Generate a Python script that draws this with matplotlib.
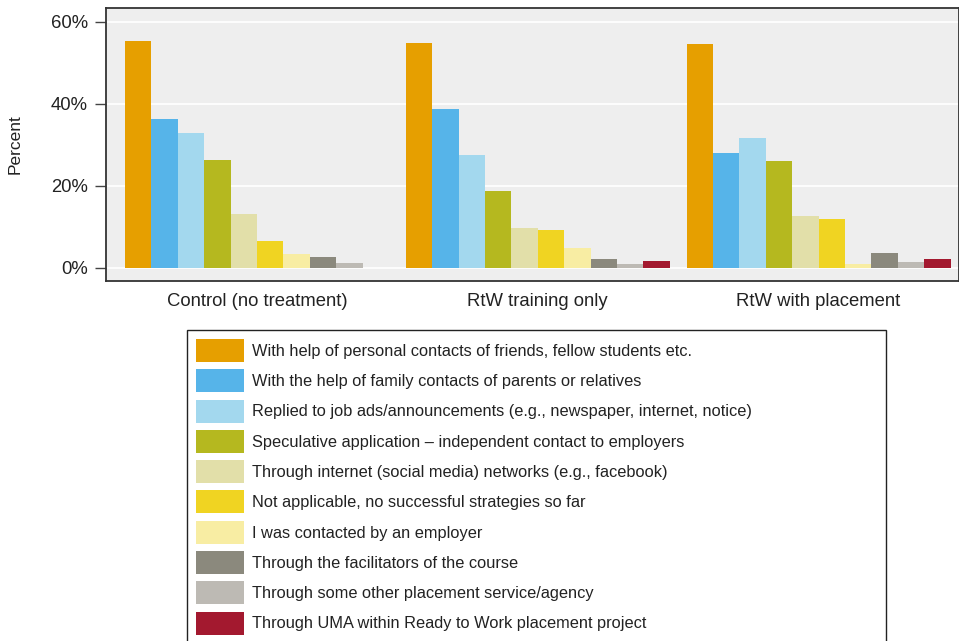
import numpy as np
import matplotlib
matplotlib.use('Agg')
import matplotlib.pyplot as plt
from matplotlib.patches import Patch
from matplotlib.ticker import FuncFormatter

plt.rcParams['font.family'] = ['Liberation Sans', 'DejaVu Sans']

groups = ['Control (no treatment)', 'RtW training only', 'RtW with placement']
strategies = [
    'With help of personal contacts of friends, fellow students etc.',
    'With the help of family contacts of parents or relatives',
    'Replied to job ads/announcements (e.g., newspaper, internet, notice)',
    'Speculative application \u2013 independent contact to employers',
    'Through internet (social media) networks (e.g., facebook)',
    'Not applicable, no successful strategies so far',
    'I was contacted by an employer',
    'Through the facilitators of the course',
    'Through some other placement service/agency',
    'Through UMA within Ready to Work placement project',
]
colors = ['#E69F00', '#56B4E9', '#A3D8EE', '#B5B81F', '#E2DFA9',
          '#F0D422', '#F8EDA3', '#8B897D', '#BDBAB4', '#A3192F']

# percent per group, one list per strategy
control = [55.3, 36.3, 32.9, 26.3, 13.2, 6.6, 3.3, 2.5, 1.2, 0.0]
training = [54.8, 38.7, 27.4, 18.8, 9.7, 9.1, 4.9, 2.1, 0.9, 1.6]
placement = [54.6, 27.9, 31.7, 25.9, 12.5, 11.8, 0.8, 3.5, 1.4, 2.2]
values = [control, training, placement]

########
fig = plt.figure(figsize=(9.59, 6.41), dpi=100)
ax = fig.add_axes([105.7/959, 1-281/641, (959-105.7)/959, 273/641])
ax.set_facecolor('#EEEEEE')

pitch = 10.64
for g, vals in enumerate(values):
    x = g*pitch + np.arange(len(vals)) + 0.5
    ax.bar(x, vals, width=1.0, color=colors, linewidth=0, zorder=3)

ax.set_xlim(-0.73, 2*pitch + 10 + 0.32)
ax.set_ylim(-3.24, 63.3)
ax.set_yticks([0, 20, 40, 60])
ax.yaxis.set_major_formatter(FuncFormatter(lambda v, p: '%d%%' % v))
ax.set_xticks([g*pitch + 5 for g in range(3)])
ax.set_xticklabels(groups)
ax.tick_params(axis='x', length=0, pad=9, labelsize=13.3, colors='#222222')
ax.tick_params(axis='y', length=8, width=1, pad=5, labelsize=13.3,
               color='#444444', labelcolor='#222222')
ax.grid(axis='y', color='white', linewidth=1.2, zorder=1)
for s in ax.spines.values():
    s.set_color('#333333')
    s.set_linewidth(1.3)
ax.set_ylabel('Percent', fontsize=12.5, labelpad=20, color='#222222')

######## legend
fs = 11.8
handles = [Patch(facecolor=c, edgecolor='none') for c in colors]
leg = fig.legend(handles, strategies, loc='upper left',
                 bbox_to_anchor=(187.3/959, 1-330/641, (885.7-187.3)/959, 0),
                 mode='expand', fontsize=fs, frameon=True, fancybox=False,
                 framealpha=1, handlelength=2.93, handleheight=1.78,
                 handletextpad=0.49, labelspacing=0.446, borderpad=0.55,
                 borderaxespad=0)
leg.get_frame().set_edgecolor('#222222')
leg.get_frame().set_linewidth(1.0)
for t in leg.get_texts():
    t.set_color('#222222')

fig.savefig('out.png', dpi=100)
